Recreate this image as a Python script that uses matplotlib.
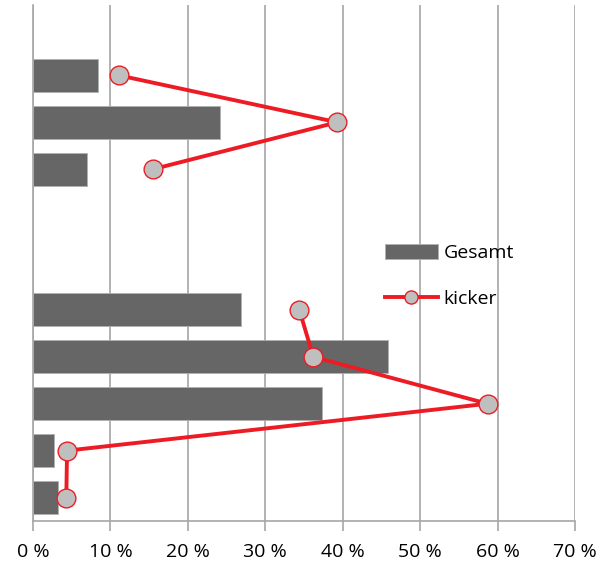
import numpy as np
import matplotlib.pyplot as plt

# data (top to bottom, empty slots are NaN)
categories = ['', 'a', 'b', 'c', '', '', 'd', 'e', 'f', 'g', 'h']
gesamt = [np.nan, 8.4, 24.2, 7.0, np.nan, np.nan, 26.9, 45.9, 37.3, 2.7, 3.2]
kicker = [np.nan, 11.1, 39.3, 15.5, np.nan, np.nan, 34.4, 36.2, 58.7, 4.4, 4.3]

plt.rcParams['font.family'] = ['Open Sans', 'DejaVu Sans']

fig = plt.figure(figsize=(5.99, 5.66), dpi=100)
ax = fig.add_axes([33/599, 45/566, 542/599, 516/566])

y = np.arange(len(categories))
bars = ax.barh(y, np.nan_to_num(gesamt), height=0.7, color='#666666',
               edgecolor='#b0b0b0', linewidth=0.6, label='Gesamt', zorder=2)
line, = ax.plot(kicker, y, color='#ED1C24', linewidth=2.8, marker='o', markersize=13.5,
                markerfacecolor='#BFBFBF', markeredgecolor='#ED1C24', markeredgewidth=1,
                label='kicker', zorder=3)

ax.set_xlim(0, 70)
ax.set_ylim(len(categories) - 0.5, -0.5)
ax.set_xticks(range(0, 71, 10))
ax.set_xticklabels([f'{v} %' for v in range(0, 71, 10)], fontsize=14)
ax.set_yticks([])

ax.grid(axis='x', color='#a6a6a6', linewidth=1.2, zorder=0)
ax.set_axisbelow(True)
for s in ['top', 'right']:
    ax.spines[s].set_visible(False)
ax.spines['left'].set_color('#a6a6a6')
ax.spines['left'].set_linewidth(1.2)
ax.spines['bottom'].set_color('#a6a6a6')
ax.spines['bottom'].set_linewidth(1.2)
ax.tick_params(axis='x', length=7, width=1.2, color='#a6a6a6', pad=9)

ax.legend([bars, line], ['Gesamt', 'kicker'], loc='center left',
          bbox_to_anchor=(385/599, 0.512), bbox_transform=fig.transFigure,
          frameon=False, fontsize=14, handlelength=2.7, handleheight=0.8,
          handletextpad=0.3, labelspacing=1.45, borderpad=0, borderaxespad=0,
          markerscale=0.7)

plt.savefig('out.png', dpi=100)
